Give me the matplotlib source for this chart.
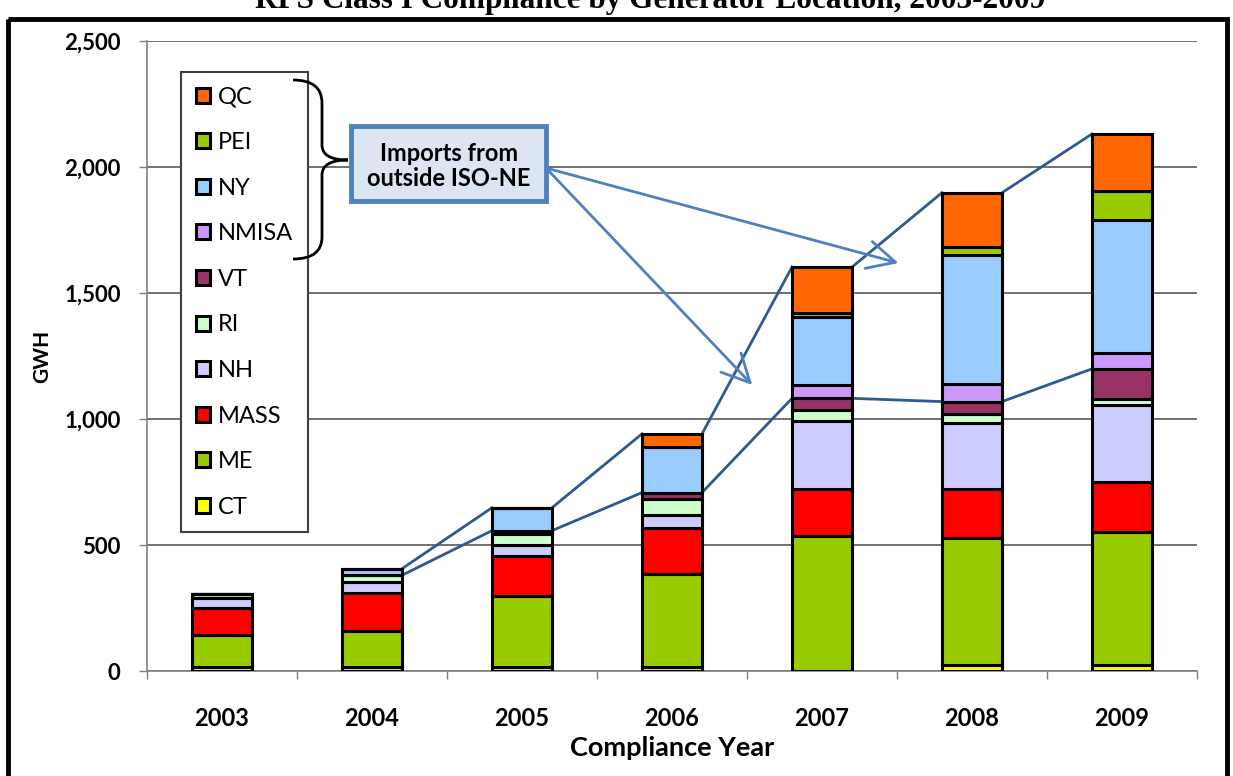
import numpy as np
import matplotlib
matplotlib.use('Agg')
import matplotlib.pyplot as plt
from matplotlib.patches import Rectangle, PathPatch
from matplotlib.path import Path
from matplotlib.transforms import Affine2D
from matplotlib.ticker import FuncFormatter

# compliance years and generator locations (bottom of stack first)
years = ['2003', '2004', '2005', '2006', '2007', '2008', '2009']
regions = ['CT', 'ME', 'MASS', 'NH', 'RI', 'VT', 'NMISA', 'NY', 'PEI', 'QC']

# GWH by location
ct    = [15, 16, 16, 16, 0, 25, 22]
me    = [127, 141, 282, 367, 534, 503, 530]
mass  = [107, 151, 157, 186, 190, 194, 198]
nh    = [40, 46, 44, 50, 270, 262, 306]
ri    = [16, 26, 46, 65, 40, 35, 24]
vt    = [0, 0, 12, 24, 48, 50, 119]
nmisa = [0, 0, 0, 0, 52, 68, 62]
ny    = [0, 26, 91, 179, 270, 513, 530]
pei   = [0, 0, 0, 0, 16, 33, 115]
qc    = [0, 0, 0, 54, 183, 215, 225]

series = [ct, me, mass, nh, ri, vt, nmisa, ny, pei, qc]
colors = ['#FFFF00', '#99CC00', '#FF0000', '#CCCCFF', '#CCFFCC',
          '#993366', '#CC99FF', '#99CCFF', '#99CC00', '#FF6600']

plt.rcParams['font.family'] = 'Lato'

W, H = 1233, 776
fig = plt.figure(figsize=(W / 100, H / 100), dpi=100)
ax = fig.add_axes([147 / W, 1 - 671 / H, 1050 / W, 630 / H])

# pixel coordinates measured from the top left corner of the picture
pxt = Affine2D().scale(1 / W, -1 / H).translate(0, 1) + fig.transFigure

x = np.arange(len(years))
width = 0.4
bottom = np.zeros(len(years))
for name, vals, col in zip(regions, series, colors):
    ax.bar(x, vals, width, bottom=bottom, color=col, edgecolor='black',
           linewidth=2.2, label=name, zorder=3)
    bottom += np.array(vals)

# connector lines: total and in-region (domestic) part of each bar
total = bottom
domestic = np.sum(series[:6], axis=0)
line_col = '#2E5A8E'
for i in range(1, len(years) - 1):
    ax.plot([x[i] + width / 2, x[i + 1] - width / 2], [total[i], total[i + 1]],
            color=line_col, lw=2, zorder=2)
    ax.plot([x[i] + width / 2, x[i + 1] - width / 2], [domestic[i], domestic[i + 1]],
            color=line_col, lw=2, zorder=2)

# axes styling
ax.set_xlim(-0.5, len(years) - 0.5)
ax.set_ylim(0, 2500)
ax.set_yticks(np.arange(0, 2501, 500))
ax.yaxis.set_major_formatter(FuncFormatter(lambda v, p: f'{int(v):,}'))
ax.set_xticks(x)
ax.set_xticklabels(years)
ax.set_xticks(np.arange(-0.5, len(years)), minor=True)
ax.tick_params(axis='x', which='major', length=0, pad=26, labelsize=17)
ax.tick_params(axis='x', which='minor', length=6, width=1, color='#808080', direction='out')
ax.tick_params(axis='y', length=6, width=1, color='#808080', direction='out', pad=13, labelsize=16)
for lab in ax.get_xticklabels() + ax.get_yticklabels():
    lab.set_fontweight('bold')
ax.yaxis.grid(True, color='#595959', lw=1.2, zorder=0)
ax.set_axisbelow(True)
for s in ['top', 'right']:
    ax.spines[s].set_visible(False)
for s in ['left', 'bottom']:
    ax.spines[s].set_color('#808080')
    ax.spines[s].set_linewidth(1.2)

ax.set_ylabel('GWH', fontsize=15, fontweight='bold')
ax.yaxis.set_label_coords(-0.09, 0.5)
ax.set_xlabel('Compliance Year', fontsize=19.5, fontweight='bold', labelpad=4)

# legend, top entry first
handles, labels = ax.get_legend_handles_labels()
leg = ax.legend(handles[::-1], labels[::-1], loc='upper left',
                bbox_to_anchor=(181 / W, 1 - 72 / H), bbox_transform=fig.transFigure,
                fancybox=False, edgecolor='#404040', framealpha=1, borderaxespad=0,
                handlelength=0.6, handleheight=0.6, handletextpad=0.35,
                labelspacing=1.04, borderpad=0.62, fontsize=17)
leg.get_frame().set_linewidth(1.5)

# curly brace grouping the imported locations
verts = [(293, 80), (322, 80), (322, 103), (322, 145), (322, 160), (348, 160),
         (322, 160), (322, 175), (322, 237), (322, 259), (293, 259)]
codes = [Path.MOVETO, Path.CURVE3, Path.CURVE3, Path.LINETO, Path.CURVE3, Path.CURVE3,
         Path.CURVE3, Path.CURVE3, Path.LINETO, Path.CURVE3, Path.CURVE3]
fig.add_artist(PathPatch(Path(verts, codes), transform=pxt, fill=False,
                         edgecolor='black', lw=2))

# callout box
fig.add_artist(Rectangle((351, 126), 195, 75, transform=pxt, facecolor='#DCE6F2',
                         edgecolor='#4F81BD', lw=3.5))
fig.text(449, 166, 'Imports from\noutside ISO-NE', transform=pxt, ha='center',
         va='center', fontsize=17, fontweight='bold', linespacing=1.15)

arrow_kw = dict(arrowstyle='->,head_length=1.0,head_width=0.5', color='#4F81BD',
                lw=2, mutation_scale=20, shrinkA=0, shrinkB=0)
ax.annotate('', xy=(4.51, 1619), xytext=(546, 168), textcoords=pxt, arrowprops=arrow_kw)
ax.annotate('', xy=(3.535, 1135), xytext=(546, 168), textcoords=pxt, arrowprops=arrow_kw)

# outer frame and title (cut off at the top)
fig.add_artist(Rectangle((8, 19), 1219, 800, transform=pxt, fill=False,
                         edgecolor='black', lw=3.5))
fig.text(650, 8, 'RPS Class I Compliance by Generator Location, 2003-2009', transform=pxt,
         ha='center', va='baseline', fontsize=22.5, fontweight='bold',
         family='Liberation Serif')

fig.savefig('out.png', dpi=100)
